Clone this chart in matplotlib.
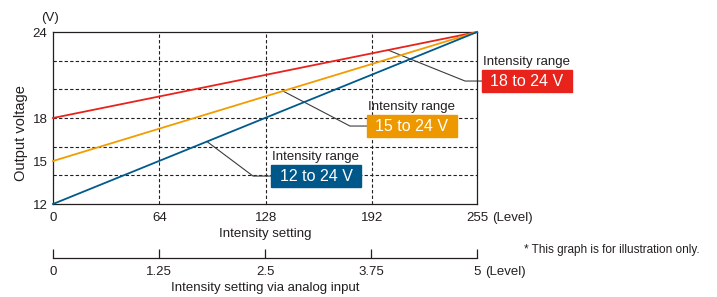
import matplotlib.pyplot as plt
import numpy as np

plt.rcParams['font.family'] = ['Liberation Sans', 'DejaVu Sans']

# data
levels = [0, 255]
red_volts = [18, 24]
orange_volts = [15, 24]
blue_volts = [12, 24]
level_ticks = [0, 64, 128, 192, 255]
analog_ticks = [0, 1.25, 2.5, 3.75, 5]
volt_ticks = [12, 15, 18, 24]
grid_volts = [14, 16, 18, 20, 22]
grid_levels = [64, 128, 192]
range_labels = ['18 to 24 V', '15 to 24 V', '12 to 24 V']

dark = '#231f20'
colors = ['#e8231b', '#f29c00', '#005a8c']
box_colors = ['#e8231b', '#ee9800', '#00578a']
fs = 9.5

fig = plt.figure(figsize=(7.17, 2.97), dpi=100)
ax = fig.add_axes([0.0739, 0.3131, 0.5914, 0.5791])

for g in grid_levels:
    ax.axvline(g, color=dark, lw=0.8, ls=(0, (3, 2)), zorder=1)
for g in grid_volts:
    ax.axhline(g, color=dark, lw=0.8, ls=(0, (3, 2)), zorder=1)

series = [red_volts, orange_volts, blue_volts]
for vals, c in zip(series, colors):
    ax.plot(levels, vals, color=c, lw=1.3, zorder=3, clip_on=False)

ax.set_xlim(0, 255)
ax.set_ylim(12, 24)
ax.set_xticks(level_ticks)
ax.set_yticks(volt_ticks)
ax.tick_params(length=0, labelsize=fs, colors=dark)
ax.tick_params(axis='x', pad=5.5)
ax.tick_params(axis='y', pad=4)
for s in ax.spines.values():
    s.set_color(dark)
    s.set_linewidth(0.9)
ax.set_xlabel('Intensity setting', fontsize=fs, color=dark, labelpad=3)
ax.set_ylabel('Output voltage', fontsize=10.5, color=dark)
ax.yaxis.set_label_coords(-0.06, 0.413)
ax.annotate('(Level)', xy=(1, 0), xycoords='axes fraction', xytext=(11, -5.5),
            textcoords='offset points', ha='left', va='top', fontsize=fs, color=dark)
fig.text(49.5 / 717, 1 - 18 / 297, '(V)', ha='center', va='center', fontsize=fs, color=dark)

# annotations: leader start level, elbow level, box left, box centre y, label y
callouts = [
    (201.5, 247.8, 258.0, 20.58, 21.91),
    (138.3, 178.6, 188.8, 17.44, 18.77),
    (92.6, 120.3, 131.1, 13.95, 15.28),
]
box_w, box_h = 54.1, 1.535
for vals, bc, txt, (x0, xe, bx, by, ly) in zip(series, box_colors, range_labels, callouts):
    y0 = np.interp(x0, levels, vals)
    ax.plot([x0, xe, bx], [y0, by, by], color='#3c3c3c', lw=0.8, zorder=2, clip_on=False)
    ax.add_patch(plt.Rectangle((bx, by - box_h / 2), box_w, box_h, color=bc,
                               zorder=4, clip_on=False))
    ax.text(bx + box_w / 2, by, txt, ha='center', va='center', fontsize=11.5,
            color='white', zorder=5)
    ax.text(bx + 0.8, ly, 'Intensity range', ha='left', va='center', fontsize=fs,
            color=dark, zorder=5)

# analog input axis
ax2 = fig.add_axes([0.0739, 1 - 258 / 297, 0.5914, 0.0001])
ax2.set_xlim(0, 5)
ax2.set_xticks(analog_ticks)
ax2.set_xticklabels(['0', '1.25', '2.5', '3.75', '5'])
ax2.set_yticks([])
for k in ['left', 'right', 'top']:
    ax2.spines[k].set_visible(False)
ax2.spines['bottom'].set_color(dark)
ax2.spines['bottom'].set_linewidth(0.9)
ax2.tick_params(axis='x', direction='in', length=6.5, width=0.9, colors=dark,
                labelsize=fs, pad=5.5)
ax2.set_xlabel('Intensity setting via analog input', fontsize=fs, color=dark, labelpad=3)
ax2.annotate('(Level)', xy=(1, 0), xycoords='axes fraction', xytext=(6, -5.5),
             textcoords='offset points', ha='left', va='top', fontsize=fs, color=dark)

fig.text(524 / 717, 1 - 250 / 297, '* This graph is for illustration only.',
         ha='left', va='center', fontsize=8.5, color=dark)

fig.savefig('out.png', dpi=100)
